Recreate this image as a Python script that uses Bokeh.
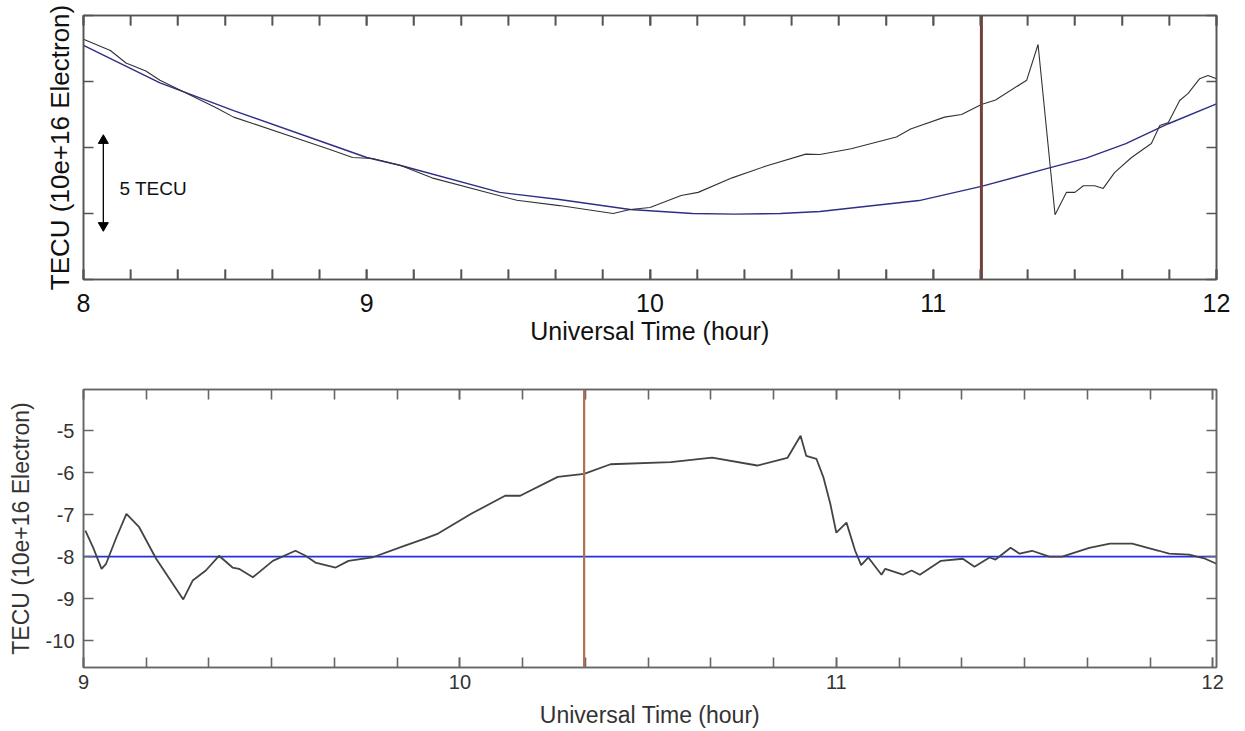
from bokeh.plotting import figure
from bokeh.models import (FixedTicker, LinearAxis, Span, CustomJSTickFormatter, Range1d)
from bokeh.core.properties import value
from bokeh.layouts import column
from bokeh.embed import file_html
from bokeh.resources import INLINE

FONT = "Liberation Sans"

# ---------------- data: top panel (8-12 UT), TEC in TECU ----------------
top_obs_hours = [8.00, 8.095, 8.15, 8.22, 8.27, 8.47, 8.53, 8.60, 8.87, 8.95, 9.02, 9.12,
                 9.23, 9.53, 9.68, 9.87, 9.93, 10.00, 10.11, 10.17, 10.29, 10.41, 10.55,
                 10.60, 10.71, 10.87, 10.92, 11.04, 11.10, 11.17, 11.22, 11.33, 11.37,
                 11.43, 11.47, 11.50, 11.53, 11.57, 11.60, 11.64, 11.70, 11.77, 11.80,
                 11.83, 11.87, 11.90, 11.94, 11.97, 12.00]
top_obs_tec = [28.2, 27.35, 26.4, 25.8, 25.1, 23.0, 22.3, 21.8, 19.85, 19.24, 19.17, 18.64,
               17.7, 16.0, 15.6, 15.0, 15.3, 15.45, 16.36, 16.6, 17.7, 18.6, 19.5,
               19.47, 19.9, 20.8, 21.4, 22.3, 22.5, 23.26, 23.6, 25.1, 27.8,
               14.9, 16.6, 16.6, 17.1, 17.1, 16.9, 18.1, 19.24, 20.3, 21.67,
               21.9, 23.56, 24.1, 25.2, 25.45, 25.2]
top_fit_hours = [8.00, 8.27, 8.53, 8.88, 9.00, 9.12, 9.47, 9.68, 9.93, 10.15, 10.30, 10.46,
                 10.60, 10.95, 11.17, 11.40, 11.54, 11.68, 11.83, 12.00]
top_fit_tec = [27.73, 24.9, 22.8, 20.15, 19.24, 18.64, 16.6, 16.06, 15.3, 15.0, 14.95, 15.0,
               15.15, 15.98, 17.05, 18.4, 19.2, 20.3, 21.8, 23.3]
top_event_hour = 11.17
top_x_ticks = [8, 9, 10, 11, 12]
top_x_labels = ["8", "9", "10", "11", "12"]
top_y_ticks = [10, 15, 20, 25, 30]
top_y_min, top_y_max = 10.0, 30.0
scale_arrow_hour = 8.07
scale_arrow_from = 14.09
scale_arrow_to = 20.53
scale_label_hour = 8.127
scale_label_tec = 16.9
scale_label_text = "5 TECU"

# ---------------- data: bottom panel (9-12 UT) ----------------
bot_obs_hours = [9.005, 9.026, 9.048, 9.06, 9.087, 9.114, 9.148, 9.193, 9.265, 9.29, 9.325,
                 9.36, 9.396, 9.413, 9.45, 9.503, 9.563, 9.59, 9.616, 9.67, 9.704, 9.767,
                 9.854, 9.907, 9.942, 10.03, 10.12, 10.16, 10.26, 10.33, 10.40, 10.56,
                 10.67, 10.79, 10.87, 10.905, 10.92, 10.947, 10.966, 10.984, 11.0, 11.027,
                 11.05, 11.066, 11.085, 11.12, 11.13, 11.177, 11.2, 11.222, 11.278, 11.336,
                 11.367, 11.407, 11.423, 11.463, 11.487, 11.52, 11.566, 11.6, 11.672,
                 11.727, 11.786, 11.857, 11.884, 11.937, 11.98, 12.01]
bot_obs_tec = [-7.38, -7.79, -8.29, -8.17, -7.55, -6.98, -7.3, -8.05, -9.02, -8.57, -8.33,
               -7.98, -8.26, -8.29, -8.49, -8.1, -7.86, -7.98, -8.14, -8.26, -8.1, -8.02,
               -7.74, -7.57, -7.45, -6.98, -6.55, -6.55, -6.1, -6.03, -5.8, -5.75,
               -5.64, -5.83, -5.65, -5.12, -5.6, -5.67, -6.12, -6.74, -7.43, -7.19,
               -7.86, -8.2, -8.02, -8.43, -8.29, -8.43, -8.33, -8.43, -8.1, -8.05,
               -8.24, -8.02, -8.07, -7.79, -7.93, -7.86, -8.0, -8.0, -7.79,
               -7.69, -7.69, -7.86, -7.93, -7.95, -8.05, -8.17]
bot_base_hours = [9.0, 12.01]
bot_base_tec = [-8.0, -8.0]
bot_event_hour = 10.33
bot_x_ticks = [9, 10, 11, 12]
bot_x_labels = ["9", "10", "11", "12"]
bot_y_ticks = [-10, -9, -8, -7, -6, -5]
bot_y_labels = ["-10", "-9", "-8", "-7", "-6", "-5"]

TICK_PX = 10
TOP_FRAME_H = 264


def blank():
    return CustomJSTickFormatter(code="return '';")


def style(ax, color, tick_len, lw):
    ax.axis_line_color = color
    ax.axis_line_width = lw
    ax.major_tick_line_color = color
    ax.minor_tick_line_color = color
    ax.major_tick_line_width = lw
    ax.minor_tick_line_width = lw
    ax.major_tick_in = tick_len
    ax.major_tick_out = 0
    ax.minor_tick_in = tick_len
    ax.minor_tick_out = 0


# ---------------- top figure ----------------
top_minor = [8.0 + i / 6.0 for i in range(25)]
p1 = figure(width=1245, height=350, x_range=Range1d(8.0, 12.0),
            y_range=Range1d(top_y_min, top_y_max),
            output_backend="svg", toolbar_location=None,
            min_border_left=83, min_border_right=26, min_border_top=15, min_border_bottom=71)
p1.xgrid.visible = False
p1.ygrid.visible = False
p1.outline_line_color = "#555555"
p1.outline_line_width = 1.5

xb = p1.xaxis[0]
xb.ticker = FixedTicker(ticks=top_x_ticks, minor_ticks=top_minor)
xb.major_label_overrides = {t: l for t, l in zip(top_x_ticks, top_x_labels)}
style(xb, "#555555", 10, 1.6)
xb.major_label_text_font = FONT
xb.major_label_text_font_size = "25px"
xb.major_label_text_color = "#111111"
xb.major_label_standoff = 14
xb.axis_label = "Universal Time (hour)"
xb.axis_label_text_font = FONT
xb.axis_label_text_font_size = "25px"
xb.axis_label_text_font_style = "normal"
xb.axis_label_text_color = "#111111"
xb.axis_label_standoff = 2

xt = LinearAxis(ticker=FixedTicker(ticks=top_x_ticks, minor_ticks=top_minor), formatter=blank())
style(xt, "#555555", 10, 1.6)
xt.major_label_standoff = 0
p1.add_layout(xt, "above")

yl = p1.yaxis[0]
yl.ticker = FixedTicker(ticks=top_y_ticks)
yl.formatter = blank()
style(yl, "#555555", 10, 1.6)
yl.major_label_standoff = 0
yl.axis_label = "TECU (10e+16 Electron)"
yl.axis_label_text_font = FONT
yl.axis_label_text_font_size = "26px"
yl.axis_label_text_font_style = "normal"
yl.axis_label_text_color = "#111111"
yl.axis_label_standoff = 9

yr = LinearAxis(ticker=FixedTicker(ticks=top_y_ticks), formatter=blank())
style(yr, "#555555", 10, 1.6)
yr.major_label_standoff = 0
p1.add_layout(yr, "right")

# inward x ticks along the bottom and top edges of the top panel (10 px long)
tick_len_data = TICK_PX * (top_y_max - top_y_min) / TOP_FRAME_H
n_t = len(top_minor)
p1.segment(x0=top_minor, y0=[top_y_min] * n_t, x1=top_minor,
           y1=[top_y_min + tick_len_data] * n_t,
           line_color="#555555", line_width=1.6, level="overlay")
p1.segment(x0=top_minor, y0=[top_y_max] * n_t, x1=top_minor,
           y1=[top_y_max - tick_len_data] * n_t,
           line_color="#555555", line_width=1.6, level="overlay")

p1.line(top_fit_hours, top_fit_tec, line_color="#2e2e86", line_width=1.4)
p1.line(top_obs_hours, top_obs_tec, line_color="#333333", line_width=1.1)
p1.add_layout(Span(location=top_event_hour, dimension="height", line_color="#74403a",
                   line_width=3))
# 5 TECU scale bar
p1.segment(x0=[scale_arrow_hour], y0=[scale_arrow_from], x1=[scale_arrow_hour],
           y1=[scale_arrow_to], line_color="black", line_width=1.3)
p1.scatter(x=[scale_arrow_hour], y=[scale_arrow_to], marker="triangle", size=10,
           fill_color="black", line_color="black")
p1.scatter(x=[scale_arrow_hour], y=[scale_arrow_from], marker="inverted_triangle", size=10,
           fill_color="black", line_color="black")
p1.text(x=[scale_label_hour], y=[scale_label_tec], text=[scale_label_text],
        text_font=value(FONT), text_font_size="19px", text_baseline="middle",
        text_color="#111111")

# ---------------- bottom figure ----------------
bot_minor = [9.0 + i / 6.0 for i in range(19)]
p2 = figure(width=1245, height=381, x_range=Range1d(9.0, 12.01), y_range=Range1d(-10.64, -4.02),
            output_backend="svg", toolbar_location=None,
            min_border_left=77, min_border_right=29, min_border_top=39, min_border_bottom=64)
p2.xgrid.visible = False
p2.ygrid.visible = False
p2.outline_line_color = "#666666"
p2.outline_line_width = 1.5

xb2 = p2.xaxis[0]
xb2.ticker = FixedTicker(ticks=bot_x_ticks, minor_ticks=bot_minor)
xb2.major_label_overrides = {t: l for t, l in zip(bot_x_ticks, bot_x_labels)}
style(xb2, "#666666", 10, 1.6)
xb2.major_label_text_font = FONT
xb2.major_label_text_font_size = "20px"
xb2.major_label_text_color = "#333333"
xb2.major_label_standoff = 7
xb2.axis_label = "Universal Time (hour)"
xb2.axis_label_text_font = FONT
xb2.axis_label_text_font_size = "23px"
xb2.axis_label_text_font_style = "normal"
xb2.axis_label_text_color = "#333333"
xb2.axis_label_standoff = 10

xt2 = LinearAxis(ticker=FixedTicker(ticks=bot_x_ticks, minor_ticks=bot_minor), formatter=blank())
style(xt2, "#666666", 10, 1.6)
xt2.major_label_standoff = 0
p2.add_layout(xt2, "above")

yl2 = p2.yaxis[0]
yl2.ticker = FixedTicker(ticks=bot_y_ticks)
yl2.major_label_overrides = {t: l for t, l in zip(bot_y_ticks, bot_y_labels)}
style(yl2, "#666666", 10, 1.6)
yl2.major_label_text_font = FONT
yl2.major_label_text_font_size = "20px"
yl2.major_label_text_color = "#333333"
yl2.major_label_standoff = 9
yl2.axis_label = "TECU (10e+16 Electron)"
yl2.axis_label_text_font = FONT
yl2.axis_label_text_font_size = "23px"
yl2.axis_label_text_font_style = "normal"
yl2.axis_label_text_color = "#333333"
yl2.axis_label_standoff = 9

yr2 = LinearAxis(ticker=FixedTicker(ticks=bot_y_ticks), formatter=blank())
style(yr2, "#666666", 10, 1.6)
yr2.major_label_standoff = 0
p2.add_layout(yr2, "right")

p2.line(bot_base_hours, bot_base_tec, line_color="#2233dd", line_width=1.6)
p2.line(bot_obs_hours, bot_obs_tec, line_color="#444444", line_width=1.8)
p2.add_layout(Span(location=bot_event_hour, dimension="height", line_color="#b0704f",
                   line_width=2.2))

layout = column(p1, p2, spacing=0)
open("out.html", "w").write(file_html(layout, INLINE))
